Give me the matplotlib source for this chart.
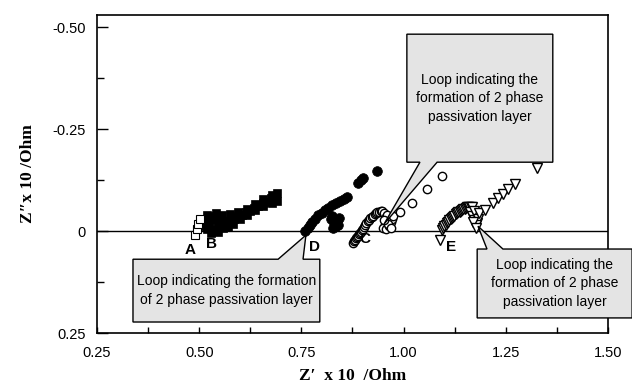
import matplotlib
matplotlib.use("Agg")
import matplotlib.pyplot as plt
from matplotlib.patches import Polygon
from matplotlib.ticker import MultipleLocator

# --- data (Z' and Z'' in units of x10 Ohm) ---
a_x = [0.490, 0.495, 0.498, 0.502]
a_y = [0.010, -0.005, -0.018, -0.030]

b_x = [0.515, 0.534, 0.555, 0.575, 0.596, 0.617, 0.636, 0.656, 0.677, 0.690,
       0.519, 0.538, 0.558, 0.570, 0.583, 0.600, 0.617, 0.636, 0.656, 0.677, 0.690,
       0.525, 0.545, 0.565, 0.585, 0.605, 0.625, 0.645, 0.665, 0.685,
       0.512, 0.528, 0.548, 0.530, 0.545, 0.560,
       0.520, 0.540, 0.550, 0.575, 0.595, 0.615, 0.635, 0.655, 0.675]
b_y = [-0.030, -0.038, -0.040, -0.042, -0.047, -0.055, -0.066, -0.079, -0.088, -0.094,
       -0.004, -0.006, -0.007, -0.010, -0.018, -0.030, -0.040, -0.052, -0.062, -0.070, -0.074,
       -0.018, -0.022, -0.024, -0.030, -0.040, -0.050, -0.062, -0.072, -0.082,
       -0.012, -0.028, -0.032, 0.004, 0.002, -0.015,
       -0.040, -0.045, -0.012, -0.020, -0.036, -0.046, -0.057, -0.070, -0.080]

d_x = [0.759, 0.765, 0.771, 0.776, 0.783, 0.791, 0.800, 0.808, 0.816, 0.825,
       0.834, 0.844, 0.853, 0.862,
       0.822, 0.830, 0.838, 0.834, 0.826, 0.842, 0.828, 0.840,
       0.888, 0.896, 0.901, 0.935]
d_y = [0.000, -0.008, -0.015, -0.022, -0.030, -0.039, -0.045, -0.051, -0.057, -0.063,
       -0.069, -0.075, -0.079, -0.083,
       -0.030, -0.020, -0.024, -0.012, -0.036, -0.032, -0.008, -0.014,
       -0.117, -0.125, -0.131, -0.148]

c_x = [0.876, 0.879, 0.881, 0.884, 0.886, 0.888, 0.890, 0.893, 0.895, 0.898,
       0.900, 0.903, 0.906, 0.909, 0.912, 0.915, 0.918, 0.922, 0.925, 0.929,
       0.932, 0.936, 0.940, 0.944, 0.947,
       0.952, 0.956, 0.958, 0.955, 0.950, 0.958, 0.965, 0.968, 0.966, 0.960,
       0.972, 0.975, 0.962, 0.953, 0.970,
       0.991, 1.020, 1.057, 1.094]
c_y = [0.029, 0.025, 0.022, 0.018, 0.015, 0.011, 0.008, 0.005, 0.002, -0.002,
       -0.006, -0.010, -0.015, -0.019, -0.024, -0.028, -0.032, -0.035, -0.038, -0.041,
       -0.044, -0.046, -0.048, -0.049, -0.050,
       -0.045, -0.035, -0.025, -0.015, -0.008, -0.005, -0.012, -0.022, -0.032, -0.040,
       -0.030, -0.038, -0.018, -0.028, -0.008,
       -0.046, -0.070, -0.104, -0.136]

e_x = [1.089, 1.094, 1.097, 1.100, 1.103, 1.106, 1.109, 1.112, 1.115, 1.118,
       1.121, 1.124, 1.127, 1.131, 1.134, 1.137, 1.140, 1.143, 1.146, 1.149,
       1.152, 1.155, 1.158, 1.161, 1.164, 1.167,
       1.162, 1.167, 1.172, 1.177, 1.172, 1.180, 1.182, 1.176, 1.185, 1.170, 1.178,
       1.199, 1.219, 1.231, 1.243, 1.255, 1.272, 1.326]
e_y = [0.022, -0.002, -0.007, -0.012, -0.016, -0.019, -0.023, -0.026, -0.029, -0.032,
       -0.035, -0.038, -0.041, -0.044, -0.046, -0.048, -0.050, -0.051, -0.053, -0.055,
       -0.056, -0.058, -0.059, -0.059, -0.059, -0.058,
       -0.046, -0.036, -0.028, -0.040, -0.050, -0.020, -0.030, -0.015, -0.045, -0.022, -0.008,
       -0.051, -0.068, -0.080, -0.092, -0.104, -0.116, -0.155]

curve_labels = ["A", "B", "D", "C", "E"]
label_x = [0.477, 0.531, 0.783, 0.906, 1.116]
label_y = [0.047, 0.032, 0.039, 0.020, 0.039]

x_ticks = [0.25, 0.50, 0.75, 1.00, 1.25, 1.50]
x_ticklabels = ["0.25", "0.50", "0.75", "1.00", "1.25", "1.50"]
y_ticks = [-0.50, -0.25, 0.0, 0.25]
y_ticklabels = ["-0.50", "-0.25", "0", "0.25"]

note = "Loop indicating the\nformation of 2 phase\npassivation layer"
note_wide = "Loop indicating the formation\nof 2 phase passivation layer"

sans = ["Liberation Sans", "DejaVu Sans"]
serif = ["Liberation Serif", "DejaVu Serif"]

fig = plt.figure(figsize=(6.32, 3.87), dpi=100)
ax = fig.add_axes([0.1535, 0.1395, 0.8085, 0.8217])

ax.axhline(0, color="black", lw=1.0, zorder=1)

ax.plot(a_x, a_y, ls="none", marker="s", ms=5.5, mfc="white", mec="black", mew=0.8, zorder=3)
ax.plot(b_x, b_y, ls="none", marker="s", ms=6.3, mfc="black", mec="black", mew=0.5, zorder=2)
ax.plot(d_x, d_y, ls="none", marker="o", ms=7, mfc="black", mec="black", mew=0.5, zorder=2)
ax.plot(c_x, c_y, ls="none", marker="o", ms=6, mfc="white", mec="black", mew=1.0, zorder=2)
ax.plot(e_x, e_y, ls="none", marker="v", ms=7, mfc="white", mec="black", mew=1.0, zorder=2)

for s, lx, ly in zip(curve_labels, label_x, label_y):
    ax.text(lx, ly, s, ha="center", va="center", fontsize=11, fontweight="bold",
            family=sans, zorder=4)


def callout(x0, x1, y_edge, y_other, bl, br, tip, text, fs=10):
    verts = [(x0, y_edge), (bl, y_edge), tip, (br, y_edge), (x1, y_edge),
             (x1, y_other), (x0, y_other)]
    ax.add_patch(Polygon(verts, closed=True, facecolor="#e4e4e4", edgecolor="black",
                         lw=1.0, clip_on=False, zorder=5))
    ax.text((x0 + x1) / 2, (y_edge + y_other) / 2, text, ha="center", va="center",
            fontsize=fs, linespacing=1.4, family=sans, zorder=6, clip_on=False)


callout(0.338, 0.795, 0.069, 0.223, 0.693, 0.754, (0.761, 0.010), note_wide)
callout(1.008, 1.365, -0.169, -0.483, 1.040, 1.082, (0.952, -0.017), note)
callout(1.180, 1.559, 0.044, 0.213, 1.204, 1.243, (1.182, -0.012), note)

ax.set_xlim(0.25, 1.50)
ax.set_ylim(0.25, -0.53)
ax.set_xticks(x_ticks)
ax.set_xticklabels(x_ticklabels, family=sans, fontsize=10.5)
ax.set_yticks(y_ticks)
ax.set_yticklabels(y_ticklabels, family=sans, fontsize=10.5)
ax.xaxis.set_minor_locator(MultipleLocator(0.125))
ax.yaxis.set_minor_locator(MultipleLocator(0.125))
ax.tick_params(axis="x", which="both", direction="in", length=4.5, width=1, pad=9)
ax.tick_params(axis="y", which="major", direction="in", length=8, width=1, pad=8)
ax.tick_params(axis="y", which="minor", direction="in", length=5, width=1)
for sp in ax.spines.values():
    sp.set_linewidth(1.2)

ax.set_xlabel("Z\u2032  x 10  /Ohm", family=serif, fontweight="bold", fontsize=12.5, labelpad=6)
ax.set_ylabel("Z\u2033x 10 /Ohm", family=serif, fontweight="bold", fontsize=12.5, labelpad=12)

fig.savefig("out.png", dpi=100)
